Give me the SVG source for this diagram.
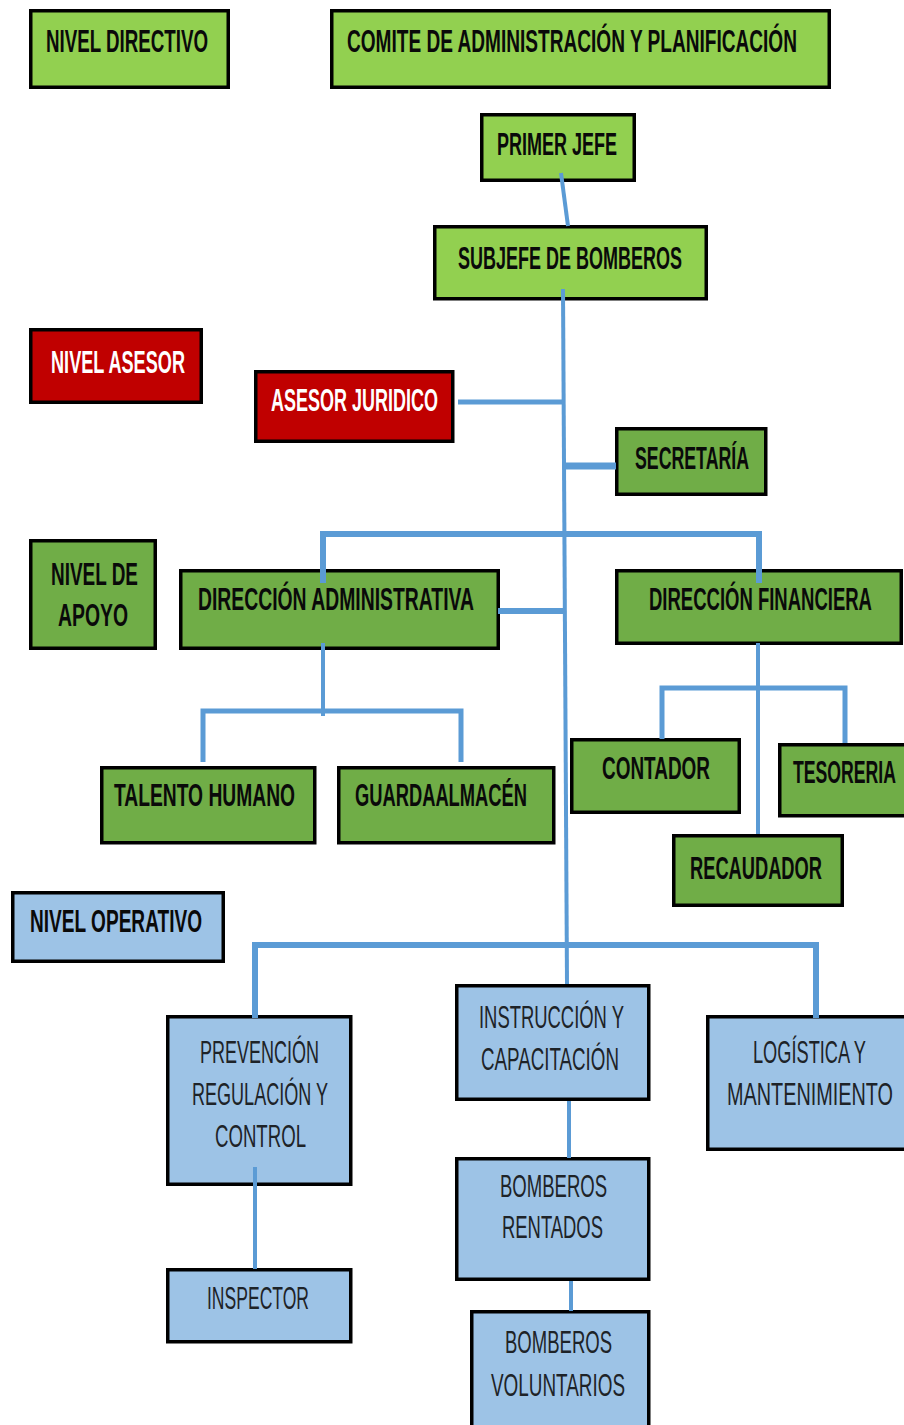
<svg xmlns="http://www.w3.org/2000/svg" width="904" height="1425" viewBox="0 0 904 1425">
<style>
rect{stroke:#000;stroke-width:3.5}
.g1{fill:#92D050}.g2{fill:#70AD47}.r{fill:#C00000}.b{fill:#9DC3E6}
text{font-family:"Liberation Sans",Arial,sans-serif;font-size:31px;font-weight:bold;fill:#0a0a0a}
.w{fill:#fff}
.t{font-weight:normal;fill:#1e2328}
.c line,.c polyline{stroke:#5B9BD5;fill:none;stroke-linecap:butt}
</style>
<rect width="904" height="1425" fill="#fff" style="stroke:none"/>
<g id="nivel-directivo"><rect class="g1" x="30.75" y="10.75" width="197.5" height="76.5"/><text transform="translate(46,52) scale(0.603,1)" textLength="268.7" lengthAdjust="spacingAndGlyphs">NIVEL DIRECTIVO</text></g>
<g id="comite"><rect class="g1" x="331.75" y="10.75" width="497.5" height="76.5"/><text transform="translate(347,52) scale(0.613,1)" textLength="734" lengthAdjust="spacingAndGlyphs">COMITE DE ADMINISTRACIÓN Y PLANIFICACIÓN</text></g>
<g id="primer-jefe"><rect class="g1" x="481.75" y="114.75" width="152.5" height="65.5"/><text transform="translate(497,155) scale(0.581,1)" textLength="206.5" lengthAdjust="spacingAndGlyphs">PRIMER JEFE</text></g>
<g id="subjefe"><rect class="g1" x="434.75" y="226.75" width="271.5" height="72"/><text transform="translate(458,269) scale(0.581,1)" textLength="385.5" lengthAdjust="spacingAndGlyphs">SUBJEFE DE BOMBEROS</text></g>
<g id="nivel-asesor"><rect class="r" x="30.75" y="329.75" width="170.5" height="72.5"/><text class="w" transform="translate(51,373) scale(0.581,1)" textLength="230.6" lengthAdjust="spacingAndGlyphs">NIVEL ASESOR</text></g>
<g id="asesor-juridico"><rect class="r" x="255.75" y="371.75" width="197" height="69.5"/><text class="w" transform="translate(271,411) scale(0.581,1)" textLength="287.4" lengthAdjust="spacingAndGlyphs">ASESOR JURIDICO</text></g>
<g id="secretaria"><rect class="g2" x="616.75" y="428.75" width="149" height="65.5"/><text transform="translate(635,469) scale(0.566,1)" textLength="201.4" lengthAdjust="spacingAndGlyphs">SECRETARÍA</text></g>
<g id="nivel-apoyo"><rect class="g2" x="30.75" y="540.75" width="124.5" height="107.5"/><text transform="translate(51,585) scale(0.608,1)" textLength="143.1" lengthAdjust="spacingAndGlyphs">NIVEL DE</text><text transform="translate(58,626) scale(0.625,1)" textLength="112" lengthAdjust="spacingAndGlyphs">APOYO</text></g>
<g id="dir-admin"><rect class="g2" x="180.75" y="570.75" width="317.5" height="77.5"/><text transform="translate(198,610) scale(0.616,1)" textLength="448" lengthAdjust="spacingAndGlyphs">DIRECCIÓN ADMINISTRATIVA</text></g>
<g id="dir-fin"><rect class="g2" x="616.75" y="570.75" width="284.5" height="72.5"/><text transform="translate(649,610) scale(0.597,1)" textLength="373.5" lengthAdjust="spacingAndGlyphs">DIRECCIÓN FINANCIERA</text></g>
<g id="talento"><rect class="g2" x="101.75" y="767.75" width="213" height="75"/><text transform="translate(114,806) scale(0.615,1)" textLength="294.3" lengthAdjust="spacingAndGlyphs">TALENTO HUMANO</text></g>
<g id="guarda"><rect class="g2" x="338.75" y="767.75" width="215" height="75"/><text transform="translate(355,806) scale(0.591,1)" textLength="291" lengthAdjust="spacingAndGlyphs">GUARDAALMACÉN</text></g>
<g id="contador"><rect class="g2" x="571.75" y="739.75" width="167.5" height="72.5"/><text transform="translate(602,779) scale(0.603,1)" textLength="179.1" lengthAdjust="spacingAndGlyphs">CONTADOR</text></g>
<g id="tesoreria"><rect class="g2" x="779.75" y="744.75" width="130" height="71"/><text transform="translate(793,783) scale(0.569,1)" textLength="181" lengthAdjust="spacingAndGlyphs">TESORERIA</text></g>
<g id="recaudador"><rect class="g2" x="673.75" y="835.75" width="168.5" height="69.5"/><text transform="translate(690,879) scale(0.590,1)" textLength="223.7" lengthAdjust="spacingAndGlyphs">RECAUDADOR</text></g>
<g id="nivel-operativo"><rect class="b" x="12.75" y="892.75" width="210.5" height="68.5"/><text transform="translate(30,932) scale(0.609,1)" textLength="282.4" lengthAdjust="spacingAndGlyphs">NIVEL OPERATIVO</text></g>
<g id="prevencion"><rect class="b" x="167.75" y="1016.75" width="183" height="167.5"/><text class="t" transform="translate(200,1063) scale(0.58,1)" textLength="205.2" lengthAdjust="spacingAndGlyphs">PREVENCIÓN</text><text class="t" transform="translate(192,1105) scale(0.572,1)" textLength="237.8" lengthAdjust="spacingAndGlyphs">REGULACIÓN Y</text><text class="t" transform="translate(215,1147) scale(0.594,1)" textLength="153.2" lengthAdjust="spacingAndGlyphs">CONTROL</text></g>
<g id="inspector"><rect class="b" x="167.75" y="1269.75" width="183" height="72"/><text class="t" transform="translate(207,1309) scale(0.564,1)" textLength="180.9" lengthAdjust="spacingAndGlyphs">INSPECTOR</text></g>
<g id="instruccion"><rect class="b" x="456.75" y="985.75" width="192" height="113.5"/><text class="t" transform="translate(479,1028) scale(0.593,1)" textLength="244.5" lengthAdjust="spacingAndGlyphs">INSTRUCCIÓN Y</text><text class="t" transform="translate(481,1070) scale(0.56,1)" textLength="246.4" lengthAdjust="spacingAndGlyphs">CAPACITACIÓN</text></g>
<g id="logistica"><rect class="b" x="707.75" y="1016.75" width="205" height="132.5"/><text class="t" transform="translate(753,1063) scale(0.57,1)" textLength="198.2" lengthAdjust="spacingAndGlyphs">LOGÍSTICA Y</text><text class="t" transform="translate(727,1105) scale(0.634,1)" textLength="261.8" lengthAdjust="spacingAndGlyphs">MANTENIMIENTO</text></g>
<g id="rentados"><rect class="b" x="456.75" y="1158.75" width="192" height="120.5"/><text class="t" transform="translate(500,1197) scale(0.586,1)" textLength="182.6" lengthAdjust="spacingAndGlyphs">BOMBEROS</text><text class="t" transform="translate(502,1238) scale(0.581,1)" textLength="173.8" lengthAdjust="spacingAndGlyphs">RENTADOS</text></g>
<g id="voluntarios"><rect class="b" x="471.75" y="1311.75" width="177" height="130"/><text class="t" transform="translate(505,1353) scale(0.586,1)" textLength="182.6" lengthAdjust="spacingAndGlyphs">BOMBEROS</text><text class="t" transform="translate(491,1396) scale(0.594,1)" textLength="225.6" lengthAdjust="spacingAndGlyphs">VOLUNTARIOS</text></g>
<g class="c" id="connectors">
<line x1="561" y1="173" x2="568" y2="226" stroke-width="4"/>
<line x1="563" y1="289" x2="567" y2="984" stroke-width="4"/>
<line x1="458" y1="402" x2="563" y2="402" stroke-width="5"/>
<line x1="563" y1="466" x2="616" y2="466" stroke-width="7"/>
<polyline points="323,583 323,534 759,534 759,583" stroke-width="6"/>
<line x1="498" y1="611" x2="564" y2="611" stroke-width="6"/>
<line x1="323" y1="643" x2="323" y2="716" stroke-width="4"/>
<polyline points="203,762 203,711 461,711 461,762" stroke-width="5"/>
<line x1="758" y1="643" x2="758" y2="834" stroke-width="4"/>
<polyline points="662,739 662,688 845,688 845,743" stroke-width="5"/>
<polyline points="255,1018 255,945 816,945 816,1018" stroke-width="6"/>
<line x1="255" y1="1167" x2="255" y2="1269" stroke-width="4"/>
<line x1="569" y1="1101" x2="569" y2="1158" stroke-width="4"/>
<line x1="571" y1="1281" x2="571" y2="1311" stroke-width="4"/>
</g>
</svg>
